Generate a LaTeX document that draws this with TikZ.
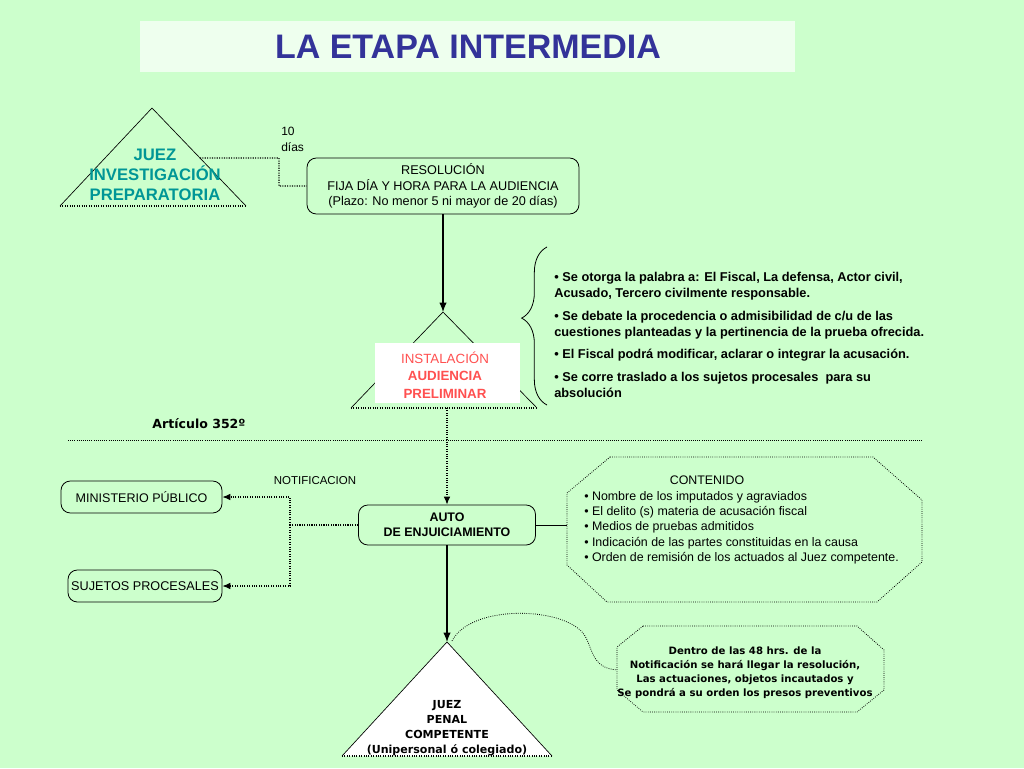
\documentclass[tikz,border=0pt]{standalone}
\usepackage{fontspec}
\setmainfont{Liberation Sans}
\newfontfamily\tahoma{DejaVu Sans}
\usepackage{tikz}
\usetikzlibrary{positioning}
\usetikzlibrary{calc}
\usetikzlibrary{arrows.meta}
\usetikzlibrary{decorations.pathreplacing}
\usepackage{xcolor}

\definecolor{fondo}{RGB}{204,255,204}
\definecolor{titulofondo}{RGB}{238,255,238}
\definecolor{tituloazul}{RGB}{51,51,153}
\definecolor{verdeazul}{RGB}{0,150,150}
\definecolor{rojo}{RGB}{255,80,80}

\newcommand{\fsz}[2]{\fontsize{#1}{#2}\selectfont}

\tikzset{
  caja/.style={draw, rounded corners=7pt, line width=0.6pt, inner sep=0pt, align=center},
  punteado/.style={densely dotted, line width=0.8pt},
  flecha/.style={-{Latex[length=7pt,width=5.5pt]}, line width=0.9pt},
  flechapunteada/.style={densely dotted, line width=0.8pt, -{Latex[length=6pt,width=5pt]}},
  lado/.style={line width=0.5pt}
}

\begin{document}
\begin{tikzpicture}[x=0.75pt, y=-0.75pt]

\useasboundingbox (0,0) rectangle (1024,768);
\fill[fondo] (0,0) rectangle (1024,768);

% titulo
\fill[titulofondo] (140,21) rectangle (795,72);
\node (titulo) at (468,47) [text=tituloazul, font=\fsz{25.5pt}{28pt}\bfseries] {LA ETAPA INTERMEDIA};

% juez de investigacion preparatoria
\coordinate (jipA) at (152,108);
\coordinate (jipL) at (60,206);
\coordinate (jipR) at (246,206);
\draw[lado] (jipL)--(jipA)--(jipR);
\draw[punteado] (jipL)--(jipR);
\node (jip) at (155,175) [text=verdeazul, align=center, inner sep=0pt, font=\fsz{12.5pt}{15pt}\bfseries] {JUEZ\\INVESTIGACIÓN\\PREPARATORIA};

% resolucion
\node (res) at (443,186) [caja, minimum width=204pt, minimum height=42pt, font=\fsz{9.5pt}{11.6pt}] {RESOLUCIÓN\\FIJA DÍA Y HORA PARA LA AUDIENCIA\\(Plazo: No menor 5 ni mayor de 20 días)};

\coordinate (jipC) at ($(jipA)!0.51!(jipR)$);
\coordinate (codo) at (279,158);
\draw[punteado] (jipC) -- (codo) |- (res.west);
\node (dias) at (281,139) [anchor=west, align=left, inner sep=0pt, font=\fsz{9pt}{12pt}] {10\\días};

% instalacion audiencia preliminar
\coordinate (audA) at (443,312);
\coordinate (audL) at (351,408);
\coordinate (audR) at (537,408);
\coordinate (audB) at (447,408);
\draw[lado] (audL)--(audA)--(audR);
\draw[punteado] (audL)--(audR);
\fill[white] (375,343) rectangle (520,403);
\node (aud) at (445,375) [text=rojo, align=center, inner sep=0pt, font=\fsz{10pt}{13pt}] {INSTALACIÓN\\\textbf{AUDIENCIA}\\\textbf{PRELIMINAR}};

\draw[flecha] (res.south -| audA) -- (audA);

% llave
\draw[decorate, decoration={brace, amplitude=19pt, aspect=0.55}, line width=0.6pt] (547,405) -- (547,247);
\node (debate) at (554,272) [anchor=north west, align=left, inner sep=0pt, font=\fsz{9.6pt}{12pt}\bfseries] {• Se otorga la palabra a: El Fiscal, La defensa, Actor civil,\\Acusado, Tercero civilmente responsable.\\[5pt]• Se debate la procedencia o admisibilidad de c/u de las\\cuestiones planteadas y la pertinencia de la prueba ofrecida.\\[5pt]• El Fiscal podrá modificar, aclarar o integrar la acusación.\\[5pt]• Se corre traslado a los sujetos procesales \ para su\\absolución};

% articulo
\node (art) at (199,424) [font=\fsz{9.4pt}{11pt}\tahoma\bfseries] {Artículo 352º};
\coordinate (lineaI) at (68,440);
\coordinate (lineaD) at (922,440);
\draw[punteado, line width=0.6pt] (lineaI) -- (lineaD);

% auto de enjuiciamiento
\node (auto) at (447,525) [caja, minimum width=132.75pt, minimum height=30pt, font=\fsz{9.3pt}{11.25pt}\bfseries] {AUTO\\DE ENJUICIAMIENTO};
\draw[flechapunteada] (audB) -- (auto.north);

\node (notif) at (315,481) [font=\fsz{8.6pt}{10pt}] {NOTIFICACION};
\node (min) at (141.5,497) [caja, minimum width=120.75pt, minimum height=24pt, font=\fsz{9.4pt}{11pt}] {MINISTERIO PÚBLICO};
\node (suj) at (145,586) [caja, minimum width=115.5pt, minimum height=24pt, font=\fsz{9.5pt}{11pt}] {SUJETOS PROCESALES};

\coordinate (nudo) at (290,525);
\draw[punteado] (auto.west) -- (nudo);
\draw[flechapunteada] (nudo) |- (min.east);
\draw[flechapunteada] (nudo) |- (suj.east);

% contenido
\coordinate (octL) at (567,525);
\draw[punteado, line width=0.6pt] (610,457) -- (873,457) -- (922,500) -- (922,562) -- (877,602) -- (607,602) -- (567,565) -- (567,493) -- cycle;
\draw[line width=0.6pt] (auto.east) -- (octL);
\node (conttit) at (707,480) [font=\fsz{9.3pt}{11pt}] {CONTENIDO};
\node (cont) at (584,491) [anchor=north west, align=left, inner sep=0pt, font=\fsz{9.3pt}{11.5pt}] {• Nombre de los imputados y agraviados\\• El delito (s) materia de acusación fiscal\\• Medios de pruebas admitidos\\• Indicación de las partes constituidas en la causa\\• Orden de remisión de los actuados al Juez competente.};

% juez penal competente
\coordinate (jpA) at (447,642);
\coordinate (jpL) at (342,756);
\coordinate (jpR) at (552,756);
\fill[white] (jpL)--(jpA)--(jpR)--cycle;
\draw[lado] (jpL)--(jpA)--(jpR);
\draw[punteado] (jpL)--(jpR);
\draw[flecha] (auto.south) -- (jpA);
\node (jp) at (447,728) [align=center, inner sep=0pt, font=\fsz{8.3pt}{11.25pt}\tahoma\bfseries] {JUEZ\\PENAL\\COMPETENTE\\(Unipersonal ó colegiado)};

% plazo 48 horas
\coordinate (octII) at (617,670);
\draw[punteado, line width=0.6pt] (643,626) -- (857,626) -- (884,650) -- (884,690) -- (857,712) -- (643,712) -- (617,690) -- (617,647) -- cycle;
\draw[punteado, line width=0.6pt] ($(jpA)+(5,-1)$) .. controls (470,605) and (560,606) .. (583,633) .. controls (593,646) and (590,668) .. (octII);
\node (plazo) at (745,673) [align=center, inner sep=0pt, font=\fsz{7.6pt}{10.5pt}\tahoma\bfseries] {Dentro de las 48 hrs. de la\\Notificación se hará llegar la resolución,\\Las actuaciones, objetos incautados y\\Se pondrá a su orden los presos preventivos};

\end{tikzpicture}
\end{document}
